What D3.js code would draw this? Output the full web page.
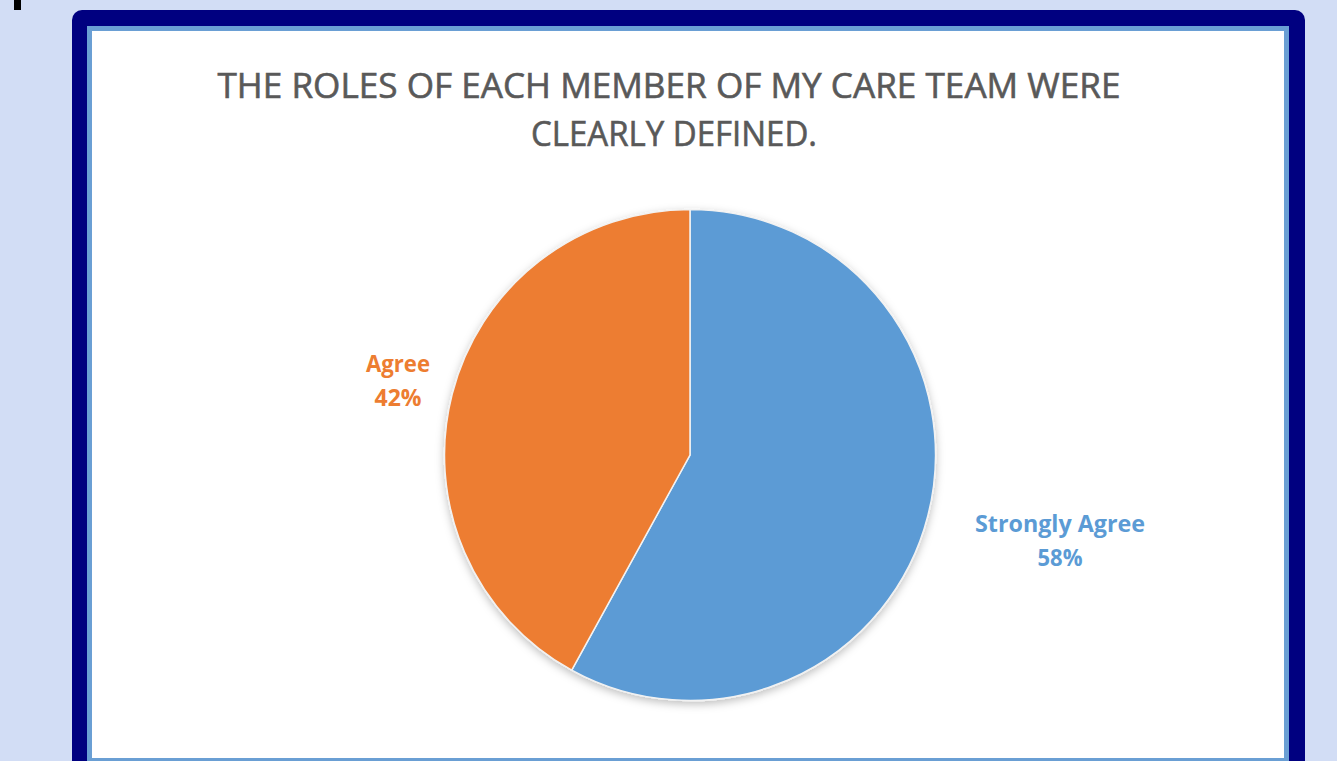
<!DOCTYPE html>
<html><head><meta charset="utf-8">
<script src="https://cdn.jsdelivr.net/npm/d3@7"></script>
<style>html,body{margin:0;padding:0;background:#d2ddf5;overflow:hidden}</style>
</head><body>
<svg id="c" width="1337" height="761"></svg>
<script>
const categories = ["Strongly Agree", "Agree"];
const values = [58, 42];
const titleLines = ["THE ROLES OF EACH MEMBER OF MY CARE TEAM WERE", "CLEARLY DEFINED."];
const colors = ["#5b9bd5", "#ed7d31"];

const svg = d3.select("#c");
svg.append("rect").attr("width",1337).attr("height",761).attr("fill","#d2ddf5");
svg.append("rect").attr("x",14).attr("y",0).attr("width",7).attr("height",10).attr("fill","#000");
svg.append("rect").attr("x",72).attr("y",10).attr("width",1233).attr("height",780).attr("rx",10).attr("fill","#000080");
svg.append("rect").attr("x",87).attr("y",26).attr("width",1202).attr("height",740).attr("fill","#6a9fd4");
svg.append("rect").attr("x",92).attr("y",31).attr("width",1192).attr("height",727).attr("fill","#ffffff");

const defs = svg.append("defs");
const f = defs.append("filter").attr("id","sh").attr("x","-20%").attr("y","-20%").attr("width","140%").attr("height","140%");
f.append("feDropShadow").attr("dx",0).attr("dy",3).attr("stdDeviation",4).attr("flood-color","#000").attr("flood-opacity",0.25);

// title
const tpos = [{x:669, y:98, w:903},{x:674, y:146, w:286}];
svg.selectAll("text.title").data(titleLines).join("text").attr("class","title")
  .attr("x",(d,i)=>tpos[i].x).attr("y",(d,i)=>tpos[i].y)
  .attr("text-anchor","middle").attr("font-family","Open Sans").attr("font-size",34)
  .attr("fill","#595959").attr("stroke","#595959").attr("stroke-width",0.6)
  .attr("textLength",(d,i)=>tpos[i].w).attr("lengthAdjust","spacingAndGlyphs")
  .text(d=>d);

// pie
const cx = 690, cy = 455, r = 245.5;
const data = categories.map((c,i)=>({cat:c, v:values[i], color:colors[i]}));
const pie = d3.pie().value(d=>d.v).sort(null);
const arc = d3.arc().innerRadius(0).outerRadius(r);
const g = svg.append("g").attr("transform",`translate(${cx},${cy})`);
g.append("g").attr("filter","url(#sh)").selectAll("path").data(pie(data)).join("path")
  .attr("d",arc).attr("fill",d=>d.data.color).attr("stroke","#f2f2f2").attr("stroke-width",1.5);

// labels
const labelPos = [{x:1060, y:532, w:[170,45]},{x:398, y:372, w:[64,47]}];
data.forEach((d,i)=>{
  const lp = labelPos[i];
  const t = svg.append("text").attr("text-anchor","middle").attr("font-family","Open Sans")
    .attr("font-weight","bold").attr("font-size",24).attr("fill",d.color);
  t.append("tspan").attr("x",lp.x).attr("y",lp.y).attr("textLength",lp.w[0]).attr("lengthAdjust","spacingAndGlyphs").text(d.cat);
  t.append("tspan").attr("x",lp.x).attr("y",lp.y+34).attr("textLength",lp.w[1]).attr("lengthAdjust","spacingAndGlyphs").text(d.v+"%");
});
</script>
</body></html>
